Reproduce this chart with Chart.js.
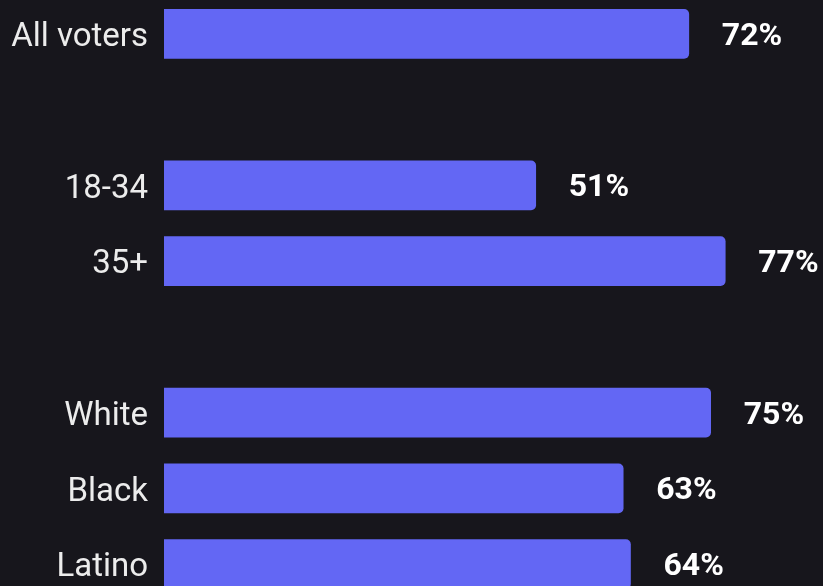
<!DOCTYPE html>
<html>
<head>
<meta charset="utf-8">
<script src="https://cdn.jsdelivr.net/npm/chart.js@4/dist/chart.umd.min.js"></script>
<style>
	html, body {
		margin: 0;
		padding: 0;
		background: #17161c;
		overflow: hidden;
		width: 823px;
		height: 586px;
	}
	#wrap {
		position: absolute;
		left: 0;
		top: -4px;
		width: 823px;
		height: 606px;
	}
</style>
</head>
<body>
<div id="wrap"><canvas id="main_chart"></canvas></div>
<script>
// empty strings are spacer rows between the groups
const groups = ["All voters", "", "18-34", "35+", "", "White", "Black", "Latino"];
const shares = [72, null, 51, 77, null, 75, 63, 64];

const barColor = "#6367f4";

// prints "NN%" just past the end of each bar
const valueLabels = {
	id: 'valueLabels',
	afterDatasetsDraw(chart) {
		const c = chart.ctx;
		const meta = chart.getDatasetMeta(0);
		c.save();
		c.font = "bold 32px Roboto";
		c.fillStyle = "#ffffff";
		c.textAlign = "left";
		c.textBaseline = "alphabetic";
		meta.data.forEach((bar, i) => {
			if (shares[i] == null) return;
			c.fillText(shares[i] + "%", bar.x + 33, bar.y + 11);
		});
		c.restore();
	}
};

new Chart(document.getElementById('main_chart'), {
	type: 'bar',
	data: {
		labels: groups,
		datasets: [{
			data: shares,
			backgroundColor: barColor,
			borderRadius: 5,
			barThickness: 49,
		}],
	},
	options: {
		indexAxis: 'y',
		responsive: true,
		maintainAspectRatio: false,
		animation: false,
		layout: {
			padding: { right: 3 },
		},
		scales: {
			x: {
				display: false,
				min: 0,
				max: 90,
			},
			y: {
				grid: {
					display: false,
					drawTicks: false,
				},
				border: {
					display: false,
				},
				ticks: {
					color: "#ececec",
					padding: 16,
					labelOffset: 4,
					font: {
						size: 33,
						family: 'Roboto',
					},
				},
				afterFit(scale) {
					scale.width = 164;
					// rows run edge to edge, no room kept for half labels
					scale.paddingTop = 0;
					scale.paddingBottom = 0;
				},
			},
		},
		plugins: {
			legend: { display: false },
			tooltip: { enabled: false },
		},
	},
	plugins: [valueLabels],
});
</script>
</body>
</html>
